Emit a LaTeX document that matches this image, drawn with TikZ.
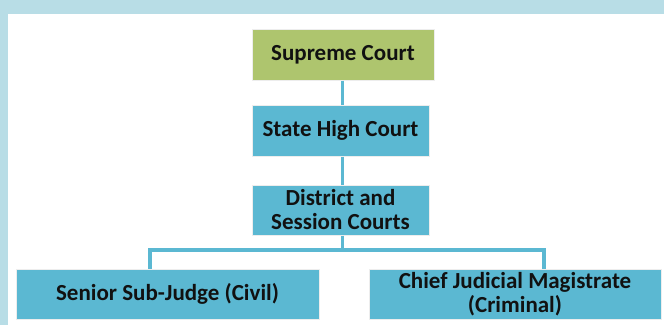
\documentclass[tikz,border=0pt]{standalone}
\usepackage{fontspec}
\setmainfont{Carlito}
\definecolor{bgblue}{HTML}{B8DDE6}
\definecolor{boxblue}{HTML}{5BB8D2}
\definecolor{boxgreen}{HTML}{AEC56E}
\definecolor{txt}{HTML}{111111}
\tikzset{
  court/.style={draw=black!7, line width=1pt, inner sep=0pt, align=center, text=txt,
    font=\fontsize{23}{24}\selectfont\bfseries},
  link/.style={draw=boxblue, line width=3.5pt}
}
\begin{document}
\begin{tikzpicture}[x=1pt,y=-1pt]
\useasboundingbox (0,0) rectangle (664,325);
\clip (0,0) rectangle (664,325);
\fill[bgblue] (0,0) rectangle (664,325);
\fill[white] (8,14) rectangle (670,330);
% connectors (drawn first, boxes cover their ends)
\coordinate (mid) at (342.5,250);
\coordinate (lft) at (150,250);
\coordinate (rgt) at (544,250);
% nodes
\node[court, fill=boxgreen, minimum width=182pt, minimum height=51pt] (sc) at (343,54.5) {Supreme Court};
\node[court, fill=boxblue, minimum width=177pt, minimum height=51pt] (hc) at (340.5,130.5) {State High Court};
\node[court, fill=boxblue, minimum width=177pt, minimum height=50pt] (dc) at (340.5,210) {District and\\Session Courts};
\node[court, fill=boxblue, minimum width=303pt, minimum height=50pt] (sj) at (167.5,294) {Senior Sub-Judge (Civil)};
\node[court, fill=boxblue, minimum width=292pt, minimum height=50pt] (cj) at (515,294) {Chief Judicial Magistrate\\(Criminal)};
\draw[link] (sc.south -| mid) -- (hc.north -| mid);
\draw[link] (hc.south -| mid) -- (dc.north -| mid);
\draw[link] (dc.south -| mid) -- (mid);
\draw[link] (sj.north -| lft) -- (lft) -- (rgt) -- (cj.north -| rgt);
\end{tikzpicture}
\end{document}
